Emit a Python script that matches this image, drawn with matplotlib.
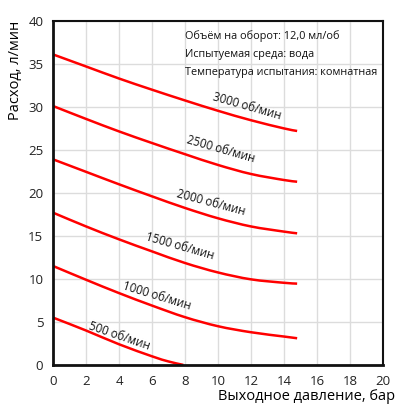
import numpy as np, matplotlib; matplotlib.use("Agg")
import matplotlib.pyplot as plt
from matplotlib.path import Path
from matplotlib.patches import PathPatch

plt.rcParams["font.family"] = ["Open Sans", "DejaVu Sans"]

# pressure points (bar)
p = [0, 2, 4, 6, 8, 10, 12, 14, 14.8]
p500 = [0, 2, 4, 6, 7, 7.9]
# flow (l/min) per speed
q3000 = [36.1, 34.7, 33.3, 32.0, 30.75, 29.55, 28.45, 27.5, 27.2]
q2500 = [30.1, 28.6, 27.15, 25.8, 24.5, 23.25, 22.2, 21.5, 21.3]
q2000 = [23.9, 22.45, 21.0, 19.6, 18.25, 17.05, 16.1, 15.5, 15.3]
q1500 = [17.7, 16.1, 14.6, 13.2, 11.85, 10.75, 9.95, 9.55, 9.45]
q1000 = [11.5, 9.9, 8.35, 6.9, 5.55, 4.5, 3.8, 3.3, 3.1]
q500 = [5.5, 4.0, 2.4, 1.0, 0.4, 0.0]

labels = ["3000 об/мин", "2500 об/мин", "2000 об/мин", "1500 об/мин", "1000 об/мин", "500 об/мин"]
label_pos = [(11.76, 30.1), (10.2, 25.1), (9.6, 18.8), (7.7, 13.8), (6.3, 8.0), (4.0, 3.35)]
label_rot = [-16, -16, -15, -16, -17, -19]

info = ["Объём на оборот: 12,0 мл/об", "Испытуемая среда: вода", "Температура испытания: комнатная"]

def smooth_path(xs, ys):
    # cubic bezier through the points (catmull-rom tangents), drawing only
    P = np.column_stack([xs, ys]).astype(float)
    n = len(P)
    T = np.zeros_like(P)
    for i in range(n):
        a, b = P[max(i - 1, 0)], P[min(i + 1, n - 1)]
        T[i] = (b - a) / (2 if 0 < i < n - 1 else 1)
    verts, codes = [P[0]], [Path.MOVETO]
    for i in range(n - 1):
        h = 1 / 3
        verts += [P[i] + T[i] * h, P[i + 1] - T[i + 1] * h, P[i + 1]]
        codes += [Path.CURVE4] * 3
    return Path(verts, codes)

fig = plt.figure(figsize=(4.18, 4.18), dpi=100)
ax = fig.add_axes([0.127, 0.127, 0.789, 0.823])

curves = [(p, q3000), (p, q2500), (p, q2000), (p, q1500), (p, q1000), (p500, q500)]
for (xs, ys) in curves:
    ax.add_patch(PathPatch(smooth_path(xs, ys), facecolor="none", edgecolor="#ff0000", lw=1.8, clip_on=False))
for txt, (lx, ly), r in zip(labels, label_pos, label_rot):
    ax.text(lx, ly, txt, rotation=r, ha="center", va="center", fontsize=8.3, color="#111111")

for i, line in enumerate(info):
    ax.text(0.4, 0.955 - i * 0.052, line, transform=ax.transAxes, fontsize=7.8, va="center", ha="left", color="#111111")

ax.set_xlim(0, 20); ax.set_ylim(0, 40)
ax.set_xticks(range(0, 21, 2)); ax.set_yticks(range(0, 41, 5))
ax.grid(True, color="#dcdcdc", lw=1)
ax.set_axisbelow(True)
ax.tick_params(length=0, pad=7, labelsize=9.5, colors="#222222")
for s in ax.spines.values():
    s.set_linewidth(1.5); s.set_color("#111111")
ax.spines["left"].set_linewidth(2); ax.spines["bottom"].set_linewidth(2)
ax.set_xlabel("Выходное давление, бар", fontsize=10.5, ha="center", va="center")
ax.xaxis.set_label_coords(0.77, -0.093)
ax.set_ylabel("Расход, л/мин", fontsize=10.5, ha="center", va="center")
ax.yaxis.set_label_coords(-0.115, 0.857)
fig.savefig("out.png", dpi=100)
